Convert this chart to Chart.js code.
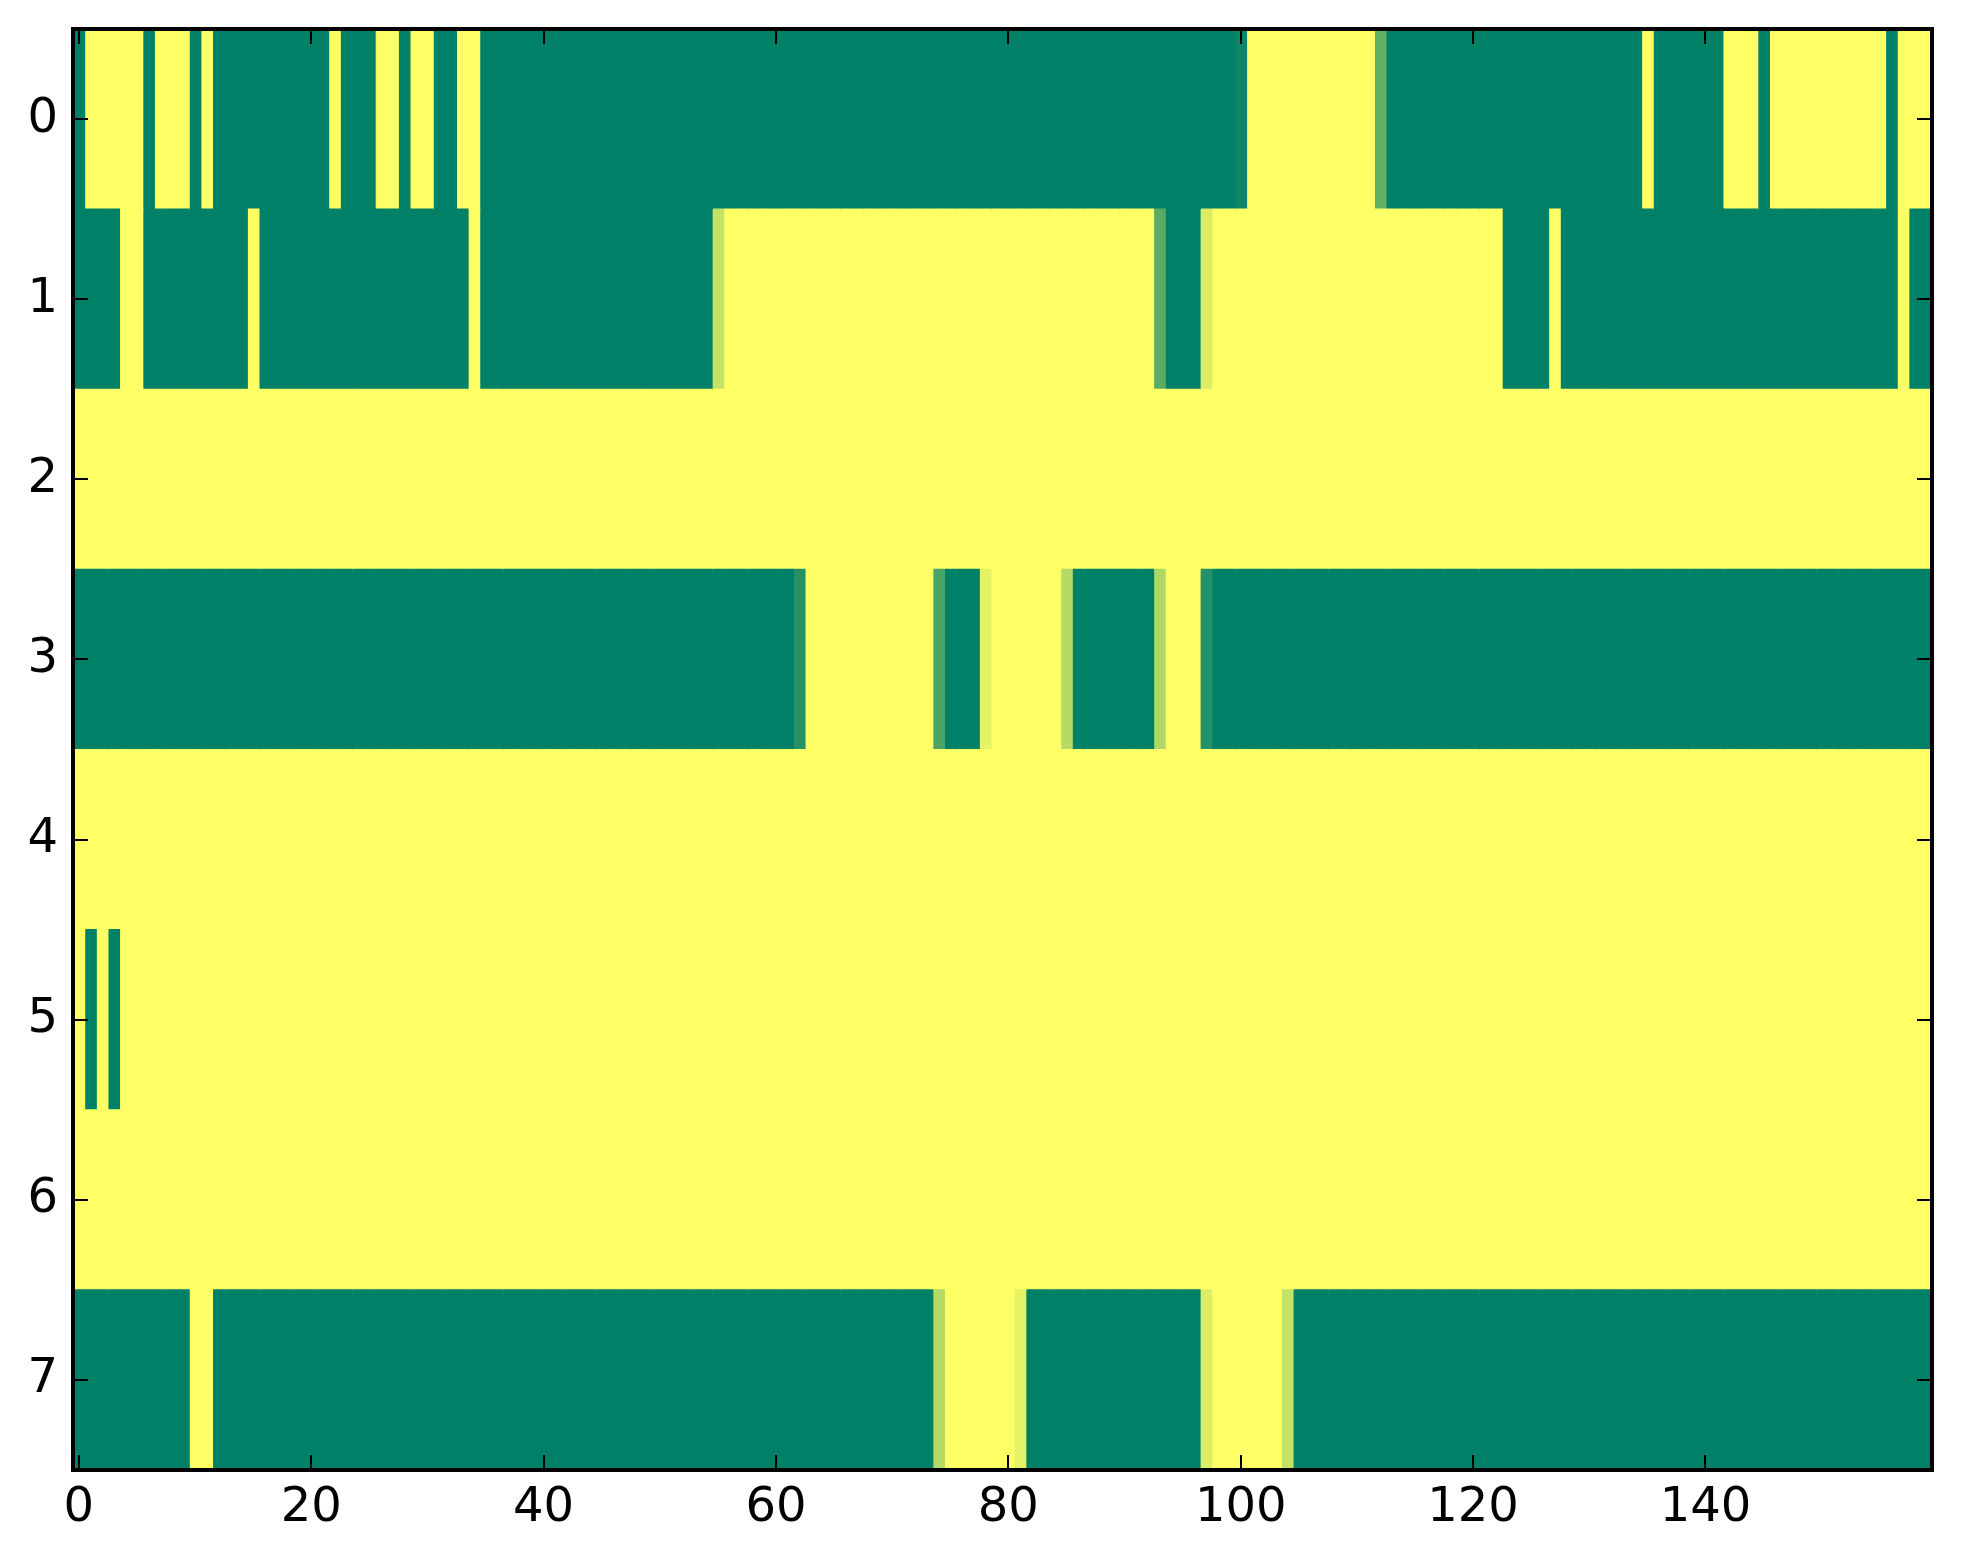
<!DOCTYPE html>
<html>
<head>
  <meta charset="UTF-8">
  <title>heatmap</title>
  <script src="https://cdn.jsdelivr.net/npm/chart.js"></script>
  <style>
    html, body { margin: 0; padding: 0; background: #fff; overflow: hidden; }
    canvas { display: block; }
  </style>
</head>
<body>
<canvas id="myChart" width="1963" height="1564"></canvas>
<script>
  // row labels (y axis) and x tick labels
  const rowLabels = ['0', '1', '2', '3', '4', '5', '6', '7'];
  const xTicks = [0, 20, 40, 60, 80, 100, 120, 140];

  // cell values per row, 160 columns each (0 = green, 1 = yellow)
  const row0 = [
    0,1,1,1,1,1,0,1,1,1,0,1,0,0,0,0,0,0,0,0,
    0,0,1,0,0,0,1,1,0,1,1,0,0,1,1,0,0,0,0,0,
    0,0,0,0,0,0,0,0,0,0,0,0,0,0,0,0,0,0,0,0,
    0,0,0,0,0,0,0,0,0,0,0,0,0,0,0,0,0,0,0,0,
    0,0,0,0,0,0,0,0,0,0,0,0,0,0,0,0,0,0,0,0,
    0.06,1,1,1,1,1,1,1,1,1,1,1,0.38,0,0,0,0,0,0,0,
    0,0,0,0,0,0,0,0,0,0,0,0,0,0,0,1,0,0,0,0,
    0,0,1,1,1,0,1,1,1,1,1,1,1,1,1,1,0,1,1,1
  ];
  const row1 = [
    0,0,0,0,1,1,0,0,0,0,0,0,0,0,0,1,0,0,0,0,
    0,0,0,0,0,0,0,0,0,0,0,0,0,0,1,0,0,0,0,0,
    0,0,0,0,0,0,0,0,0,0,0,0,0,0,0,0.77,1,1,1,1,
    1,1,1,1,1,1,1,1,1,1,1,1,1,1,1,1,1,1,1,1,
    1,1,1,1,1,1,1,1,1,1,1,1,1,0.35,0,0,0,0.86,1,1,
    1,1,1,1,1,1,1,1,1,1,1,1,1,1,1,1,1,1,1,1,
    1,1,1,0,0,0,0,1,0,0,0,0,0,0,0,0,0,0,0,0,
    0,0,0,0,0,0,0,0,0,0,0,0,0,0,0,0,0,1,0,0
  ];
  const row2 = [
    1,1,1,1,1,1,1,1,1,1,1,1,1,1,1,1,1,1,1,1,
    1,1,1,1,1,1,1,1,1,1,1,1,1,1,1,1,1,1,1,1,
    1,1,1,1,1,1,1,1,1,1,1,1,1,1,1,1,1,1,1,1,
    1,1,1,1,1,1,1,1,1,1,1,1,1,1,1,1,1,1,1,1,
    1,1,1,1,1,1,1,1,1,1,1,1,1,1,1,1,1,1,1,1,
    1,1,1,1,1,1,1,1,1,1,1,1,1,1,1,1,1,1,1,1,
    1,1,1,1,1,1,1,1,1,1,1,1,1,1,1,1,1,1,1,1,
    1,1,1,1,1,1,1,1,1,1,1,1,1,1,1,1,1,1,1,1
  ];
  const row3 = [
    0,0,0,0,0,0,0,0,0,0,0,0,0,0,0,0,0,0,0,0,
    0,0,0,0,0,0,0,0,0,0,0,0,0,0,0,0,0,0,0,0,
    0,0,0,0,0,0,0,0,0,0,0,0,0,0,0,0,0,0,0,0,
    0,0,0.14,1,1,1,1,1,1,1,1,1,1,1,0.29,0,0,0,0.9,1,
    1,1,1,1,1,0.71,0,0,0,0,0,0,0,0.69,1,1,1,0.14,0,0,
    0,0,0,0,0,0,0,0,0,0,0,0,0,0,0,0,0,0,0,0,
    0,0,0,0,0,0,0,0,0,0,0,0,0,0,0,0,0,0,0,0,
    0,0,0,0,0,0,0,0,0,0,0,0,0,0,0,0,0,0,0,0
  ];
  const row4 = [
    1,1,1,1,1,1,1,1,1,1,1,1,1,1,1,1,1,1,1,1,
    1,1,1,1,1,1,1,1,1,1,1,1,1,1,1,1,1,1,1,1,
    1,1,1,1,1,1,1,1,1,1,1,1,1,1,1,1,1,1,1,1,
    1,1,1,1,1,1,1,1,1,1,1,1,1,1,1,1,1,1,1,1,
    1,1,1,1,1,1,1,1,1,1,1,1,1,1,1,1,1,1,1,1,
    1,1,1,1,1,1,1,1,1,1,1,1,1,1,1,1,1,1,1,1,
    1,1,1,1,1,1,1,1,1,1,1,1,1,1,1,1,1,1,1,1,
    1,1,1,1,1,1,1,1,1,1,1,1,1,1,1,1,1,1,1,1
  ];
  const row5 = [
    1,0,1,0,1,1,1,1,1,1,1,1,1,1,1,1,1,1,1,1,
    1,1,1,1,1,1,1,1,1,1,1,1,1,1,1,1,1,1,1,1,
    1,1,1,1,1,1,1,1,1,1,1,1,1,1,1,1,1,1,1,1,
    1,1,1,1,1,1,1,1,1,1,1,1,1,1,1,1,1,1,1,1,
    1,1,1,1,1,1,1,1,1,1,1,1,1,1,1,1,1,1,1,1,
    1,1,1,1,1,1,1,1,1,1,1,1,1,1,1,1,1,1,1,1,
    1,1,1,1,1,1,1,1,1,1,1,1,1,1,1,1,1,1,1,1,
    1,1,1,1,1,1,1,1,1,1,1,1,1,1,1,1,1,1,1,1
  ];
  const row6 = [
    1,1,1,1,1,1,1,1,1,1,1,1,1,1,1,1,1,1,1,1,
    1,1,1,1,1,1,1,1,1,1,1,1,1,1,1,1,1,1,1,1,
    1,1,1,1,1,1,1,1,1,1,1,1,1,1,1,1,1,1,1,1,
    1,1,1,1,1,1,1,1,1,1,1,1,1,1,1,1,1,1,1,1,
    1,1,1,1,1,1,1,1,1,1,1,1,1,1,1,1,1,1,1,1,
    1,1,1,1,1,1,1,1,1,1,1,1,1,1,1,1,1,1,1,1,
    1,1,1,1,1,1,1,1,1,1,1,1,1,1,1,1,1,1,1,1,
    1,1,1,1,1,1,1,1,1,1,1,1,1,1,1,1,1,1,1,1
  ];
  const row7 = [
    0,0,0,0,0,0,0,0,0,0,1,1,0,0,0,0,0,0,0,0,
    0,0,0,0,0,0,0,0,0,0,0,0,0,0,0,0,0,0,0,0,
    0,0,0,0,0,0,0,0,0,0,0,0,0,0,0,0,0,0,0,0,
    0,0,0,0,0,0,0,0,0,0,0,0,0,0,0.71,1,1,1,1,1,
    1,0.9,0,0,0,0,0,0,0,0,0,0,0,0,0,0,0,0.86,1,1,
    1,1,1,1,0.77,0,0,0,0,0,0,0,0,0,0,0,0,0,0,0,
    0,0,0,0,0,0,0,0,0,0,0,0,0,0,0,0,0,0,0,0,
    0,0,0,0,0,0,0,0,0,0,0,0,0,0,0,0,0,0,0,0
  ];

  const rows = [row0, row1, row2, row3, row4, row5, row6, row7];
  const nCols = row0.length;

  // matplotlib "summer" colormap
  function summer(v) {
    const r = Math.round(255 * v);
    const g = Math.round(255 * (0.5 + 0.5 * v));
    return `rgb(${r}, ${g}, 102)`;
  }

  // one floating-bar dataset per column, one bar per row
  const datasets = [];
  for (let c = 0; c < nCols; c++) {
    datasets.push({
      data: rows.map(() => [c - 0.5, c + 0.5]),
      backgroundColor: rows.map(r => summer(r[c])),
      borderWidth: 0,
      inflateAmount: 0.6,
      barPercentage: 1,
      categoryPercentage: 1,
      grouped: false
    });
  }

  const FONT = { family: 'DejaVu Sans', size: 48 };

  // inward ticks on all four sides and the black frame
  const frame = {
    id: 'frame',
    afterDatasetsDraw(chart) {
      const { ctx, chartArea: a, scales: { x, y } } = chart;
      ctx.save();
      ctx.strokeStyle = '#000';
      ctx.lineWidth = 2;
      ctx.beginPath();
      xTicks.forEach(v => {
        const px = Math.round(x.getPixelForValue(v));
        ctx.moveTo(px, a.bottom); ctx.lineTo(px, a.bottom - 15);
        ctx.moveTo(px, a.top); ctx.lineTo(px, a.top + 15);
      });
      rowLabels.forEach((l, i) => {
        const py = Math.round(y.getPixelForValue(i));
        ctx.moveTo(a.left, py); ctx.lineTo(a.left + 15, py);
        ctx.moveTo(a.right, py); ctx.lineTo(a.right - 15, py);
      });
      ctx.stroke();
      ctx.lineWidth = 4;
      ctx.strokeRect(a.left, a.top, a.right - a.left, a.bottom - a.top);
      ctx.restore();
    }
  };

  new Chart(document.getElementById('myChart'), {
    type: 'bar',
    data: { labels: rowLabels, datasets: datasets },
    options: {
      indexAxis: 'y',
      responsive: false,
      devicePixelRatio: 1,
      animation: false,
      layout: { padding: { top: 29, right: 31, left: 0, bottom: 0 } },
      plugins: { legend: { display: false }, tooltip: { enabled: false } },
      scales: {
        x: {
          type: 'linear',
          min: -0.5,
          max: 159.5,
          grid: { display: false, drawTicks: false },
          border: { display: false },
          ticks: { font: FONT, color: '#000', padding: 10, maxRotation: 0 },
          afterBuildTicks: s => { s.ticks = xTicks.map(v => ({ value: v })); },
          afterFit: s => { s.height = 94; s.paddingLeft = 0; s.paddingRight = 0; }
        },
        y: {
          type: 'category',
          offset: true,
          grid: { display: false, drawTicks: false },
          border: { display: false },
          ticks: { font: FONT, color: '#000', padding: 15 },
          afterFit: s => { s.width = 73; s.paddingTop = 0; s.paddingBottom = 0; }
        }
      }
    },
    plugins: [frame]
  });
</script>
</body>
</html>
